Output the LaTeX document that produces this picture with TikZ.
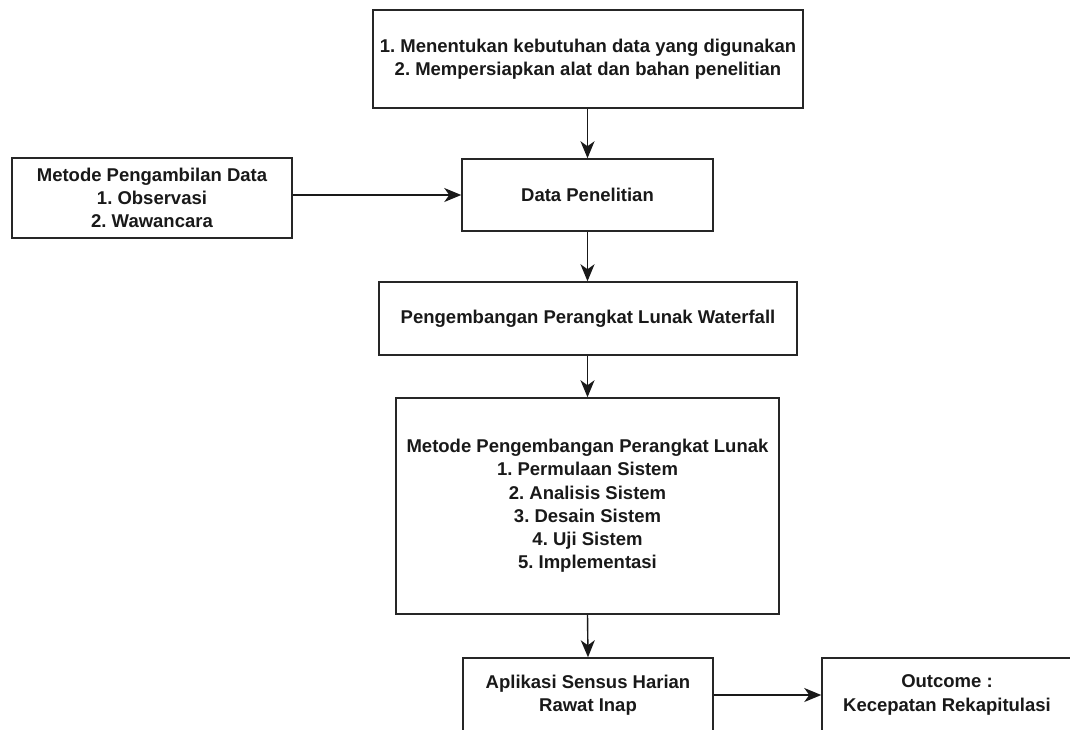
\documentclass[tikz,border=0pt]{standalone}
\usepackage{fontspec}
\setmainfont{Liberation Sans}
\usetikzlibrary{arrows.meta}
\frenchspacing
\begin{document}
\begin{tikzpicture}[x=1pt,y=-1pt,
  box/.style={draw=black!85,line width=1.5pt,fill=white,align=center,inner sep=0pt,text=black!90,font=\bfseries\fontsize{18.5}{23.2}\selectfont},
  arr/.style={draw=black!90,line width=1.4pt,-{Stealth[length=17pt,width=14pt,inset=5pt]}}]
\useasboundingbox (0,0) rectangle (1070,729);
\clip (0,0) rectangle (1070,729);
\fill[white] (0,0) rectangle (1070,729);
\node[box,minimum width=430,minimum height=98] (b1) at (588,59)
  {1. Menentukan kebutuhan data yang digunakan\\2. Mempersiapkan alat dan bahan penelitian};
\node[box,minimum width=251,minimum height=72] (b2) at (587.5,195) {Data Penelitian};
\node[box,minimum width=280,minimum height=80] (b0) at (152,198)
  {Metode Pengambilan Data\\1. Observasi\\2. Wawancara};
\node[box,minimum width=418,minimum height=73] (b3) at (588,318.5) {Pengembangan Perangkat Lunak Waterfall};
\node[box,minimum width=383,minimum height=216] (b4) at (587.5,506)
  {Metode Pengembangan Perangkat Lunak\\1. Permulaan Sistem\\2. Analisis Sistem\\3. Desain Sistem\\4. Uji Sistem\\5. Implementasi};
\node[box,minimum width=250,minimum height=74] (b5) at (588,695) {Aplikasi Sensus Harian\\Rawat Inap};
\node[box,minimum width=250,minimum height=74] (b6) at (947,695) {Outcome :\\Kecepatan Rekapitulasi};
\draw[arr] (b1.south -| b2.north) -- (b2.north);
\draw[arr] (b0.east |- b2.west) -- (b2.west);
\draw[arr] (b2.south) -- (b2.south |- b3.north);
\draw[arr] (b3.south -| b4.north) -- (b4.north);
\draw[arr] (b4.south) -- (b5.north);
\draw[arr] (b5.east) -- (b6.west);
\end{tikzpicture}
\end{document}
